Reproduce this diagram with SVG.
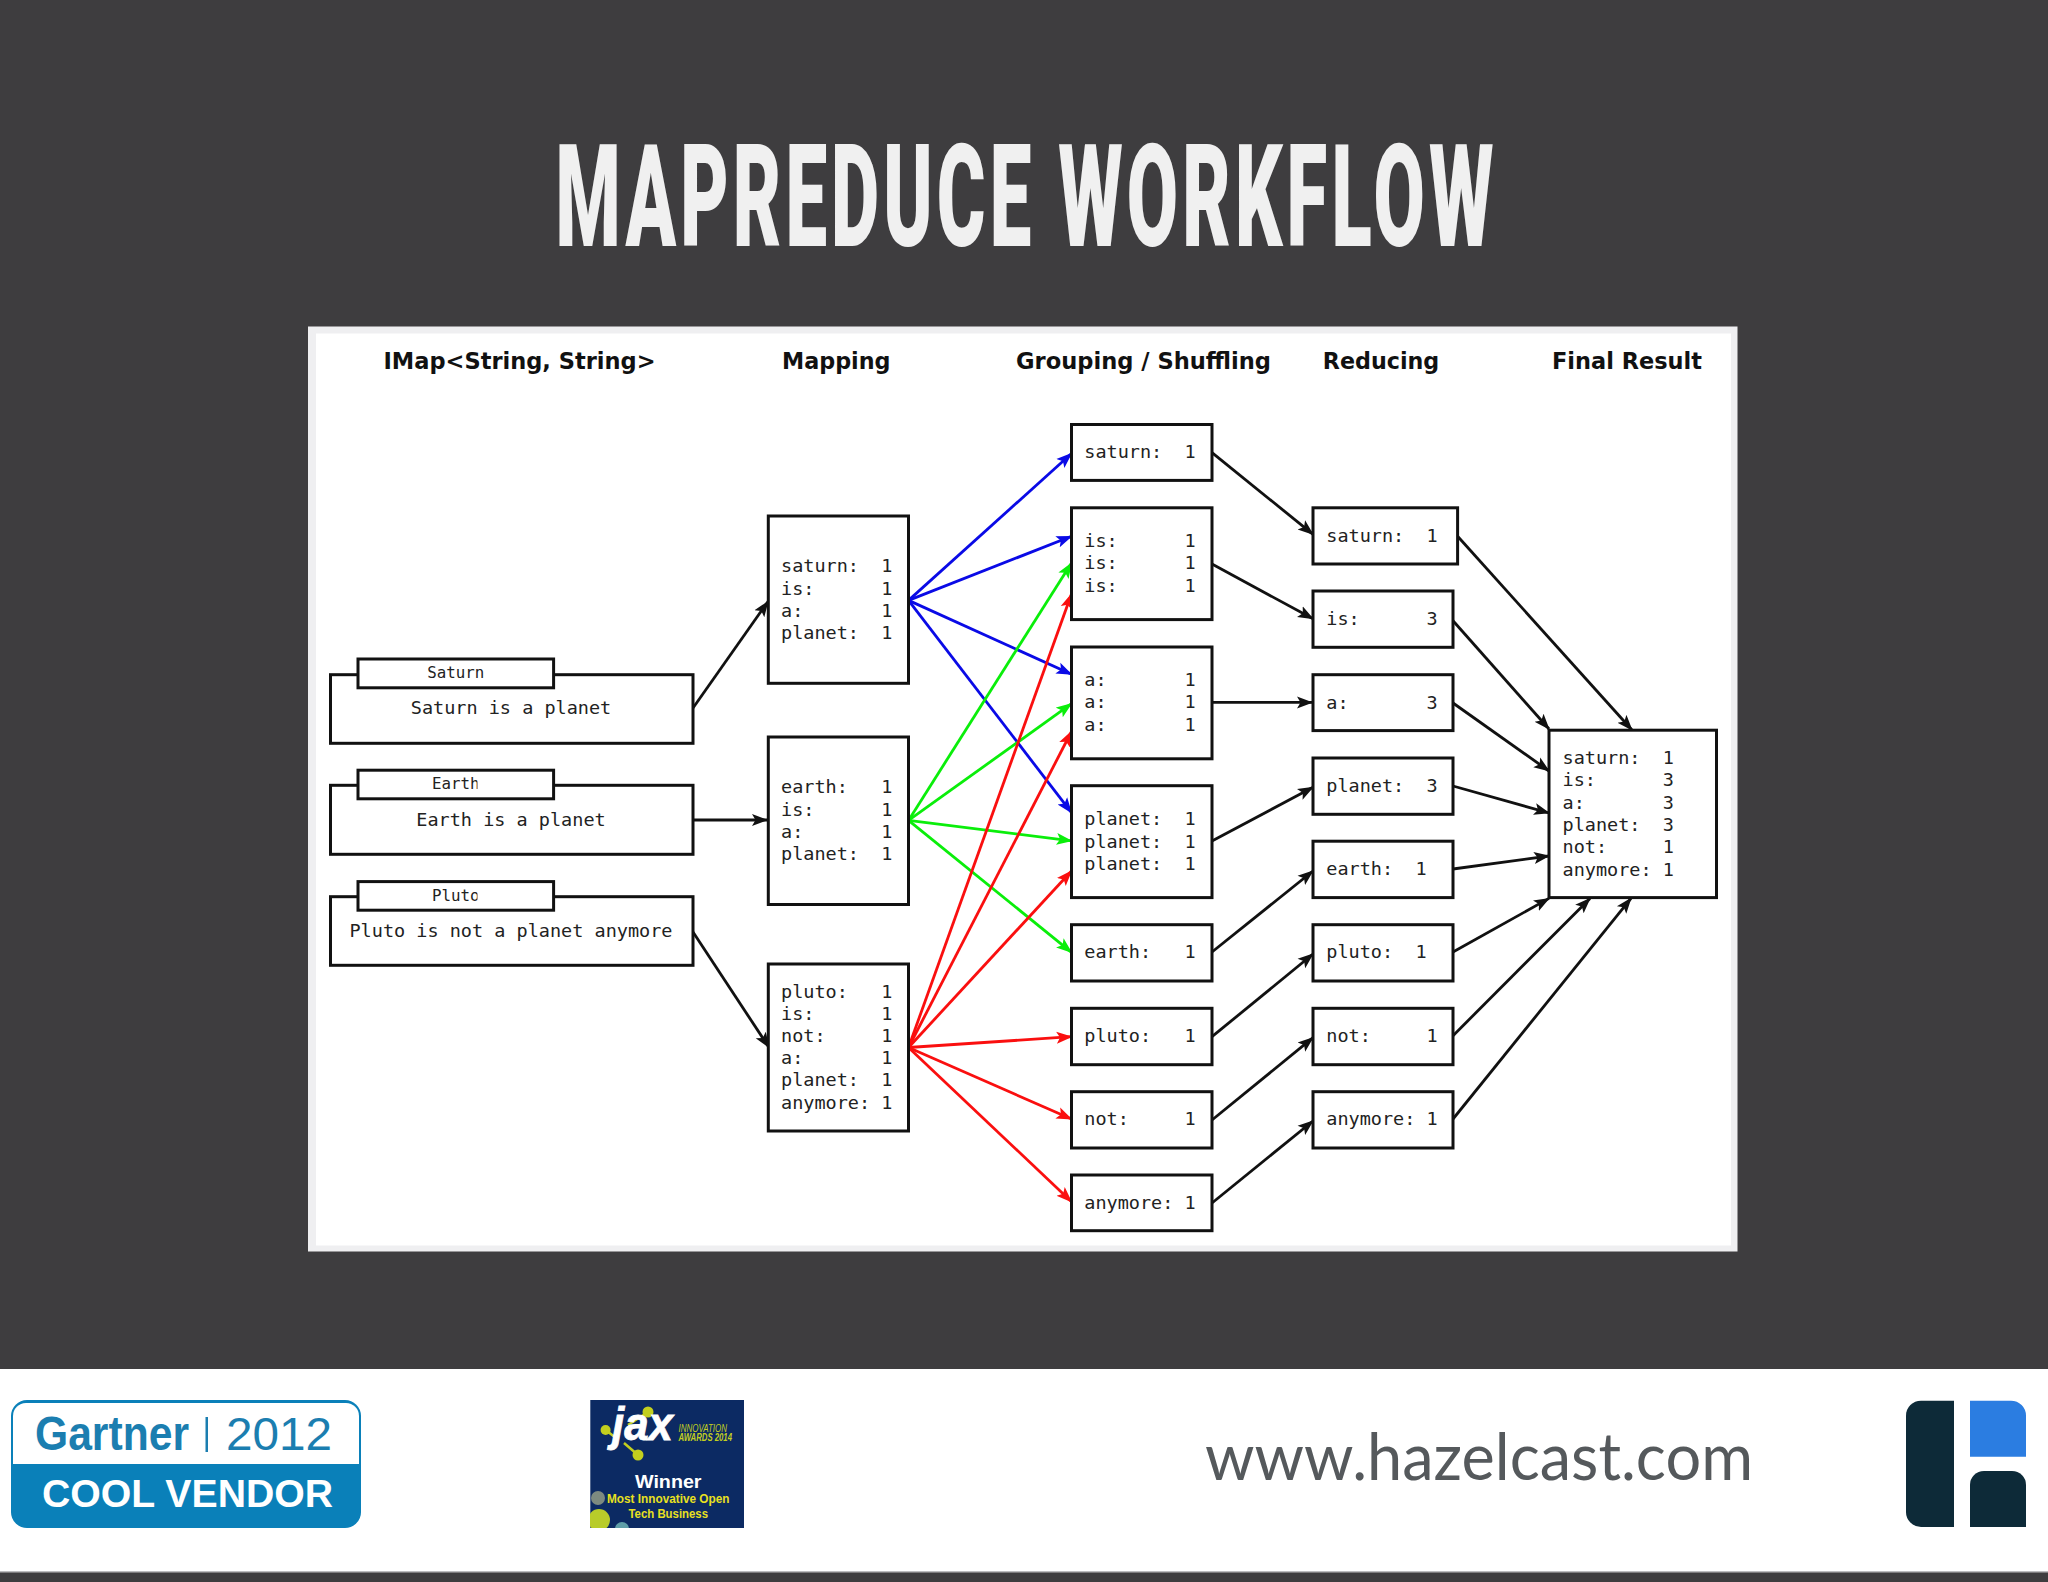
<svg xmlns="http://www.w3.org/2000/svg" width="2048" height="1582" viewBox="0 0 2048 1582">
<style>
.b{fill:#fff;stroke:#111;stroke-width:3}
.m{font-family:"DejaVu Sans Mono","Liberation Mono",monospace;font-size:18.5px;fill:#222;white-space:pre}
.s{font-size:15.8px;text-anchor:middle}
.c{text-anchor:middle}
.h{font-family:"DejaVu Sans","Liberation Sans",sans-serif;font-weight:700;font-size:22.3px;fill:#111}
.k{fill:none;stroke:#111;stroke-width:2.8}
.bl{fill:none;stroke:#0a0ae6;stroke-width:2.8}
.gr{fill:none;stroke:#0aee0a;stroke-width:2.8}
.rd{fill:none;stroke:#fa0f0f;stroke-width:2.8}
.ar{font-family:"Liberation Sans",Arial,sans-serif}
</style>
<defs>
<marker id="ak" markerUnits="userSpaceOnUse" markerWidth="16" markerHeight="14" refX="15" refY="7" orient="auto"><path d="M0,1 L16,7 L0,13 L3.500,7 Z" fill="#111"/></marker>
<marker id="ab" markerUnits="userSpaceOnUse" markerWidth="16" markerHeight="14" refX="15" refY="7" orient="auto"><path d="M0,1 L16,7 L0,13 L3.500,7 Z" fill="#0a0ae6"/></marker>
<marker id="ag" markerUnits="userSpaceOnUse" markerWidth="16" markerHeight="14" refX="15" refY="7" orient="auto"><path d="M0,1 L16,7 L0,13 L3.500,7 Z" fill="#0aee0a"/></marker>
<marker id="ar" markerUnits="userSpaceOnUse" markerWidth="16" markerHeight="14" refX="15" refY="7" orient="auto"><path d="M0,1 L16,7 L0,13 L3.500,7 Z" fill="#fa0f0f"/></marker>
<clipPath id="tabclip"><rect x="400" y="760" width="77.500" height="160"/></clipPath>
<clipPath id="jaxclip"><rect x="590" y="1400" width="154" height="128"/></clipPath>
</defs>
<rect width="2048" height="1582" fill="#3e3d3f"/>
<text id="title" transform="translate(555.500,246) scale(0.52,1)" x="0" y="0" textLength="1804" lengthAdjust="spacing" font-family="Roboto,'Liberation Sans',sans-serif" font-weight="900" font-size="143" fill="#f0f0f0">MAPREDUCE WORKFLOW</text>
<rect x="308" y="326.500" width="1429.500" height="925" fill="#efeff1"/>
<rect x="316" y="333.500" width="1415" height="912" fill="#fff"/>
<g id="headers">
<text class="h" x="383.500" y="369.400" textLength="272" lengthAdjust="spacingAndGlyphs">IMap&lt;String, String&gt;</text>
<text class="h" x="782" y="369.400" textLength="108.500" lengthAdjust="spacingAndGlyphs">Mapping</text>
<text class="h" x="1016" y="369.400" textLength="255" lengthAdjust="spacingAndGlyphs">Grouping / Shuffling</text>
<text class="h" x="1322.800" y="369.400" textLength="116.500" lengthAdjust="spacingAndGlyphs">Reducing</text>
<text class="h" x="1552" y="369.400" textLength="150" lengthAdjust="spacingAndGlyphs">Final Result</text>
</g>
<g id="connectors">
<g class="k">
<path d="M693,708 L768,601.500" marker-end="url(#ak)"/>
<path d="M693,820 L767,820" marker-end="url(#ak)"/>
<path d="M693,932 L769,1047.500" marker-end="url(#ak)"/>
<path d="M1212,452.700 L1313,534.300" marker-end="url(#ak)"/>
<path d="M1212,564 L1313,618.800" marker-end="url(#ak)"/>
<path d="M1212,702.400 L1312,702.400" marker-end="url(#ak)"/>
<path d="M1212,841 L1313,787.300" marker-end="url(#ak)"/>
<path d="M1212,952 L1313,871" marker-end="url(#ak)"/>
<path d="M1212,1036.700 L1313,954" marker-end="url(#ak)"/>
<path d="M1212,1120 L1313,1037.700" marker-end="url(#ak)"/>
<path d="M1212,1203 L1313,1121" marker-end="url(#ak)"/>
<path d="M1457.600,536.300 L1632,730" marker-end="url(#ak)"/>
<path d="M1453,620.800 L1549,729" marker-end="url(#ak)"/>
<path d="M1453,703 L1549,771" marker-end="url(#ak)"/>
<path d="M1453,786 L1549,813" marker-end="url(#ak)"/>
<path d="M1453,869 L1549,856" marker-end="url(#ak)"/>
<path d="M1453,952 L1549,898.400" marker-end="url(#ak)"/>
<path d="M1453,1035.700 L1590,898.400" marker-end="url(#ak)"/>
<path d="M1453,1119 L1631,898.400" marker-end="url(#ak)"/>
</g>
<g class="bl">
<path d="M908.500,600.400 L1071.500,453.500" marker-end="url(#ab)"/>
<path d="M908.500,600.400 L1071.500,536.300" marker-end="url(#ab)"/>
<path d="M908.500,600.400 L1071.500,674.300" marker-end="url(#ab)"/>
<path d="M908.500,600.400 L1071.500,812.700" marker-end="url(#ab)"/>
</g>
<g class="gr">
<path d="M908.500,820.400 L1071.500,563" marker-end="url(#ag)"/>
<path d="M908.500,820.400 L1071.500,703.700" marker-end="url(#ag)"/>
<path d="M908.500,820.400 L1071.500,840.800" marker-end="url(#ag)"/>
<path d="M908.500,820.400 L1071.500,952.300" marker-end="url(#ag)"/>
</g>
<g class="rd">
<path d="M908.500,1047.500 L1071.500,594" marker-end="url(#ar)"/>
<path d="M908.500,1047.500 L1071.500,731.500" marker-end="url(#ar)"/>
<path d="M908.500,1047.500 L1071.500,871" marker-end="url(#ar)"/>
<path d="M908.500,1047.500 L1071.500,1036.700" marker-end="url(#ar)"/>
<path d="M908.500,1047.500 L1071.500,1119" marker-end="url(#ar)"/>
<path d="M908.500,1047.500 L1071.500,1201.700" marker-end="url(#ar)"/>
</g>
</g>
<g id="input-saturn"><rect class="b" x="330.500" y="674.700" width="362.500" height="68.600"/><rect class="b" x="358" y="659" width="195.600" height="28.800"/><text class="m s" x="455.700" y="678.400">Saturn</text><text class="m c" x="511" y="714.200">Saturn is a planet</text></g>
<g id="input-earth"><rect class="b" x="330.500" y="785.300" width="362.500" height="69"/><rect class="b" x="358" y="770.200" width="195.600" height="28.600"/><text class="m s" x="455.700" y="789.400" clip-path="url(#tabclip)">Earth</text><text class="m c" x="511" y="825.500">Earth is a planet</text></g>
<g id="input-pluto"><rect class="b" x="330.500" y="896.700" width="362.500" height="68.600"/><rect class="b" x="358" y="881.600" width="195.600" height="28.600"/><text class="m s" x="455.700" y="900.800" clip-path="url(#tabclip)">Pluto</text><text class="m c" x="511" y="936.500">Pluto is not a planet anymore</text></g>
<g id="map-saturn"><rect class="b" x="768.300" y="516" width="140.200" height="167.300"/><text class="m" x="781" y="572.300">saturn:  1</text><text class="m" x="781" y="594.500">is:      1</text><text class="m" x="781" y="616.800">a:       1</text><text class="m" x="781" y="639">planet:  1</text></g>
<g id="map-earth"><rect class="b" x="768.300" y="737" width="140.200" height="167.500"/><text class="m" x="781" y="793.300">earth:   1</text><text class="m" x="781" y="815.500">is:      1</text><text class="m" x="781" y="837.800">a:       1</text><text class="m" x="781" y="860">planet:  1</text></g>
<g id="map-pluto"><rect class="b" x="768.300" y="964" width="140.200" height="167"/><text class="m" x="781" y="997.600">pluto:   1</text><text class="m" x="781" y="1019.800">is:      1</text><text class="m" x="781" y="1042">not:     1</text><text class="m" x="781" y="1064.200">a:       1</text><text class="m" x="781" y="1086.400">planet:  1</text><text class="m" x="781" y="1108.600">anymore: 1</text></g>
<g id="group-saturn"><rect class="b" x="1071.500" y="424.500" width="140.500" height="55.900"/><text class="m" x="1084.300" y="458.300">saturn:  1</text></g>
<g id="group-is"><rect class="b" x="1071.500" y="507.800" width="140.500" height="111.800"/><text class="m" x="1084.300" y="547.300">is:      1</text><text class="m" x="1084.300" y="569.400">is:      1</text><text class="m" x="1084.300" y="591.500">is:      1</text></g>
<g id="group-a"><rect class="b" x="1071.500" y="647" width="140.500" height="111.800"/><text class="m" x="1084.300" y="686">a:       1</text><text class="m" x="1084.300" y="708.300">a:       1</text><text class="m" x="1084.300" y="730.500">a:       1</text></g>
<g id="group-planet"><rect class="b" x="1071.500" y="785.700" width="140.500" height="111.900"/><text class="m" x="1084.300" y="825.300">planet:  1</text><text class="m" x="1084.300" y="847.500">planet:  1</text><text class="m" x="1084.300" y="869.700">planet:  1</text></g>
<g id="group-earth"><rect class="b" x="1071.500" y="924.700" width="140.500" height="56.300"/><text class="m" x="1084.300" y="958">earth:   1</text></g>
<g id="group-pluto"><rect class="b" x="1071.500" y="1008.300" width="140.500" height="56.400"/><text class="m" x="1084.300" y="1041.700">pluto:   1</text></g>
<g id="group-not"><rect class="b" x="1071.500" y="1091.700" width="140.500" height="56.300"/><text class="m" x="1084.300" y="1125.300">not:     1</text></g>
<g id="group-anymore"><rect class="b" x="1071.500" y="1175" width="140.500" height="55.700"/><text class="m" x="1084.300" y="1208.700">anymore: 1</text></g>
<g id="reduce-saturn"><rect class="b" x="1313" y="507.800" width="144.600" height="56.200"/><text class="m" x="1326.300" y="541.600">saturn:  1</text></g>
<g id="reduce-is"><rect class="b" x="1313" y="591" width="140" height="56.300"/><text class="m" x="1326.300" y="625.300">is:      3</text></g>
<g id="reduce-a"><rect class="b" x="1313" y="674.700" width="140" height="55.900"/><text class="m" x="1326.300" y="709">a:       3</text></g>
<g id="reduce-planet"><rect class="b" x="1313" y="758" width="140" height="56.300"/><text class="m" x="1326.300" y="791.800">planet:  3</text></g>
<g id="reduce-earth"><rect class="b" x="1313" y="841.200" width="140" height="56.400"/><text class="m" x="1326.300" y="875">earth:  1</text></g>
<g id="reduce-pluto"><rect class="b" x="1313" y="924.700" width="140" height="56.300"/><text class="m" x="1326.300" y="958">pluto:  1</text></g>
<g id="reduce-not"><rect class="b" x="1313" y="1008.300" width="140" height="56.400"/><text class="m" x="1326.300" y="1041.700">not:     1</text></g>
<g id="reduce-anymore"><rect class="b" x="1313" y="1091.700" width="140" height="56.300"/><text class="m" x="1326.300" y="1125.300">anymore: 1</text></g>
<g id="final"><rect class="b" x="1549" y="730.200" width="167.500" height="167.400"/><text class="m" x="1562.500" y="764">saturn:  1</text><text class="m" x="1562.500" y="786.400">is:      3</text><text class="m" x="1562.500" y="808.700">a:       3</text><text class="m" x="1562.500" y="831">planet:  3</text><text class="m" x="1562.500" y="853.200">not:     1</text><text class="m" x="1562.500" y="875.500">anymore: 1</text></g>
<rect x="0" y="1369" width="2048" height="202" fill="#fff"/>
<rect x="0" y="1571" width="2048" height="1.500" fill="#bcbcbe"/>
<g id="gartner-badge">
<rect x="11" y="1400" width="350" height="128" rx="16" fill="#0a80b9"/>
<path d="M13,1464 V1416 a13,13 0 0 1 13,-13 H346 a13,13 0 0 1 13,13 V1464 Z" fill="#fff"/>
<text class="ar" x="35" y="1450" textLength="154" lengthAdjust="spacingAndGlyphs" font-size="48" font-weight="700" fill="#1b7eb0">Gartner</text>
<rect x="205.500" y="1417" width="2.500" height="35" fill="#1b7eb0"/>
<text class="ar" x="226" y="1450" textLength="106" lengthAdjust="spacingAndGlyphs" font-size="46" fill="#1b7eb0">2012</text>
<text class="ar" x="42" y="1506.500" textLength="291" lengthAdjust="spacingAndGlyphs" font-size="38" font-weight="700" fill="#fff">COOL VENDOR</text>
</g>
<g id="jax-badge">
<rect x="590.300" y="1400" width="153.700" height="128" fill="#0c2a63"/>
<g clip-path="url(#jaxclip)">
<circle cx="598" cy="1498" r="7" fill="#7d8a80"/>
<circle cx="599" cy="1520" r="11" fill="#b8cc2a"/>
<circle cx="622" cy="1529" r="7" fill="#5f9ea8"/>
</g>
<path d="M648,1412 L628,1425 M605.600,1430 L616,1438 M638,1455 L624,1443" stroke="#c3cf1e" stroke-width="2.500" fill="none"/>
<circle cx="648" cy="1412" r="5.500" fill="#c3cf1e"/>
<circle cx="605.600" cy="1430" r="5" fill="#c3cf1e"/>
<circle cx="638" cy="1455" r="5.500" fill="#c3cf1e"/>
<text class="ar" x="612" y="1440" textLength="61" lengthAdjust="spacingAndGlyphs" font-size="46" font-weight="700" font-style="italic" fill="#fff" stroke="#fff" stroke-width="0.800">jax</text>
<text class="ar" x="678.500" y="1431.500" textLength="48.500" lengthAdjust="spacingAndGlyphs" font-size="10" font-style="italic" fill="#c3cf1e">INNOVATION</text>
<text class="ar" x="678.500" y="1441" textLength="53.500" lengthAdjust="spacingAndGlyphs" font-size="10" font-style="italic" font-weight="700" fill="#c3cf1e">AWARDS 2014</text>
<text class="ar" x="635" y="1488" textLength="66.500" lengthAdjust="spacingAndGlyphs" font-size="19" font-weight="700" fill="#fff">Winner</text>
<text class="ar" x="607" y="1503" textLength="122.500" lengthAdjust="spacingAndGlyphs" font-size="12" font-weight="700" fill="#e8e020">Most Innovative Open</text>
<text class="ar" x="628.500" y="1518" textLength="79.500" lengthAdjust="spacingAndGlyphs" font-size="12" font-weight="700" fill="#e8e020">Tech Business</text>
</g>
<text id="website" x="1205" y="1480" textLength="548" lengthAdjust="spacingAndGlyphs" font-family="Lato,'Open Sans',sans-serif" font-size="65" fill="#55595c">www.hazelcast.com</text>
<g id="hazelcast-logo">
<path d="M1954,1400.700 V1527 H1921 a15,15 0 0 1 -15,-15 V1415.700 a15,15 0 0 1 15,-15 Z" fill="#0d2a38"/>
<path d="M1970,1400.700 H2011 a15,15 0 0 1 15,15 V1456.700 H1970 Z" fill="#2b7de1"/>
<path d="M1970,1527 V1485 a14,14 0 0 1 14,-14 H2012 a14,14 0 0 1 14,14 V1527 Z" fill="#0d2a38"/>
</g>
</svg>
